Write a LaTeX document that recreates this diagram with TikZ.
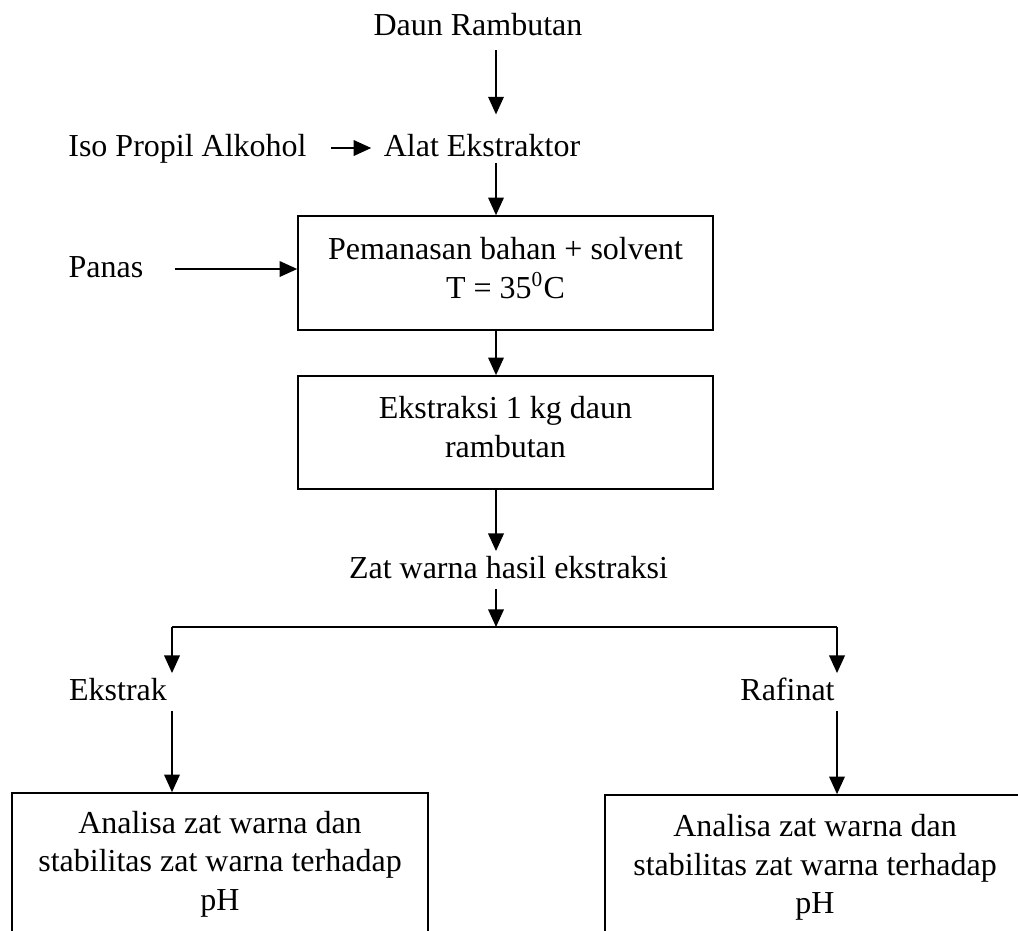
\documentclass[tikz,border=0pt]{standalone}
\usepackage{fontspec}
\setmainfont{Liberation Serif}
\usetikzlibrary{arrows.meta}

\begin{document}
\begin{tikzpicture}[x=0.375pt,y=-0.375pt,
    font=\fontsize{12}{14.5}\selectfont,
    lbl/.style={inner sep=1.5pt,text height=8.4pt,text depth=2.4pt,anchor=base},
    kotak/.style={draw,line width=0.6pt,align=center,inner sep=0pt},
    arr/.style={line width=0.75pt,-{Triangle[length=6.6pt,width=5.8pt]}}]
    \useasboundingbox (0,0) rectangle (1018,930);
    \clip (0,0) rectangle (1018,930);
    \coordinate (ax) at (496,0);
    \coordinate (bl) at (172,627);
    \coordinate (br) at (837,627);
    \node[lbl] (daun) at (478,35) {Daun Rambutan};
    \node[lbl] (iso) at (187.5,156) {Iso Propil Alkohol};
    \node[lbl] (alat) at (482,156) {Alat Ekstraktor};
    \node[lbl] (panas) at (106,277) {Panas};
    \node[kotak,minimum width=155.6pt,minimum height=42.75pt] (pemanasan) at (505.5,273) {Pemanasan bahan + solvent\\T = 35\textsuperscript{0}C\rule[-4pt]{0pt}{0pt}};
    \node[kotak,minimum width=155.6pt,minimum height=42.4pt] (ekstraksi) at (505.5,432.5) {Ekstraksi 1 kg daun\\rambutan\rule[-4pt]{0pt}{0pt}};
    \node[lbl] (zat) at (508.5,578) {Zat warna hasil ekstraksi};
    \node[lbl] (ekstrak) at (118,700) {Ekstrak};
    \node[lbl] (rafinat) at (787.5,700) {Rafinat};
    \node[kotak,minimum width=156pt,minimum height=53.25pt] (analisa1) at (220,864) {Analisa zat warna dan\\stabilitas zat warna terhadap\\pH};
    \node[kotak,minimum width=157.5pt,minimum height=54.4pt] (analisa2) at (815,867.5) {Analisa zat warna dan\\stabilitas zat warna terhadap\\pH};
    \draw[arr,shorten <=1.7pt,shorten >=5.5pt] (daun.south -| ax) -- (alat.north -| ax);
    \draw[arr,shorten <=7.5pt,shorten >=3pt] (iso.east) -- (alat.west);
    \draw[arr,shorten <=-1.5pt] (alat.south -| ax) -- (pemanasan.north -| ax);
    \draw[arr,shorten <=10pt] (panas.east) -- (panas.east -| pemanasan.west);
    \draw[arr] (pemanasan.south -| ax) -- (ekstraksi.north -| ax);
    \draw[arr] (ekstraksi.south -| ax) -- (zat.north -| ax);
    \draw[arr] (zat.south -| ax) -- (ax |- bl);
    \draw[line width=0.75pt] (bl) -- (br);
    \draw[arr] (bl) -- (ekstrak.north -| bl);
    \draw[arr] (br) -- (rafinat.north -| br);
    \draw[arr] (ekstrak.south -| bl) -- (analisa1.north -| bl);
    \draw[arr] (rafinat.south -| br) -- (analisa2.north -| br);
\end{tikzpicture}
\end{document}
